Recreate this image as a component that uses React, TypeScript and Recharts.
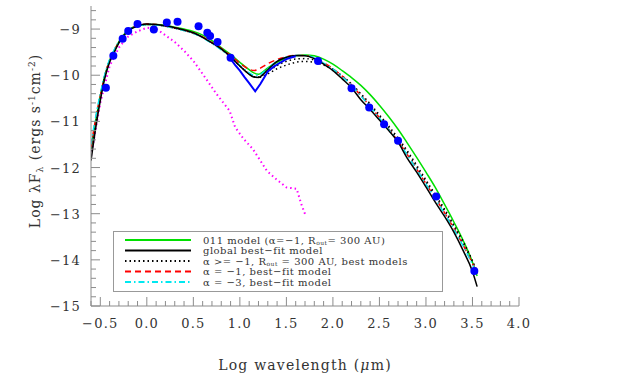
import React from "react";
import { ComposedChart, Line, XAxis, YAxis, Legend } from "recharts";

// model grid (log wavelength, micron)
const modelX = [
  -0.6, -0.55, -0.5, -0.45, -0.4, -0.35, -0.3, -0.25, -0.2,
  -0.1, 0, 0.1, 0.2, 0.3, 0.4, 0.5, 0.6, 0.7, 0.8, 0.9, 1.0, 1.1,
  1.15, 1.2, 1.25,
  1.3, 1.4, 1.5, 1.6, 1.7, 1.8, 1.9, 2.0, 2.1, 2.2, 2.3, 2.4, 2.5, 2.6, 2.7,
  2.8, 2.9, 3.0, 3.1, 3.2, 3.3, 3.4, 3.5,
  3.55,
];

const model011 = [
  -11.6, -11.0, -10.45, -10.0, -9.68, -9.46, -9.27, -9.13, -9.02,
  -8.93, -8.9, -8.9, -8.92, -8.96, -9.0, -9.05, -9.13, -9.25, -9.4, -9.55, -9.72, -9.88,
  -9.95, -9.98, -9.92,
  -9.84, -9.72, -9.63, -9.58, -9.56, -9.58, -9.65, -9.76, -9.9, -10.05, -10.22, -10.42, -10.65, -10.9, -11.17,
  -11.47, -11.78, -12.1, -12.43, -12.8, -13.18, -13.58, -14.05,
  -14.35,
];

const globalFit = [
  -11.85, -11.15, -10.55, -10.05, -9.72, -9.5, -9.3, -9.15, -9.04,
  -8.93, -8.89, -8.9, -8.93, -8.97, -9.02, -9.08, -9.18, -9.3, -9.43, -9.6, -9.8, -9.98,
  -10.04, -10.05, -9.98,
  -9.88, -9.7, -9.61, -9.57, -9.58, -9.64, -9.76, -9.9, -10.08, -10.27, -10.53, -10.74, -10.97, -11.2, -11.45,
  -11.8, -12.1, -12.42, -12.75, -13.06, -13.4, -13.8, -14.25,
  -14.58,
];

const bestA = [
  -11.6, -11.0, -10.45, -10.0, -9.68, -9.46, -9.28, -9.14, -9.03,
  -8.93, -8.9, -8.91, -8.94, -8.98, -9.03, -9.09, -9.18, -9.3, -9.44, -9.6, -9.8, -9.97,
  -10.03, -10.05, -10.02,
  -9.97, -9.86, -9.78, -9.72, -9.7, -9.72, -9.78, -9.88, -10.02, -10.19, -10.4, -10.62, -10.86, -11.1, -11.36,
  -11.64, -11.95, -12.27, -12.58, -12.9, -13.24, -13.6, -14.02,
  -14.25,
];

const bestB = [
  -11.65, -11.05, -10.5, -10.02, -9.7, -9.48, -9.29, -9.15, -9.04,
  -8.94, -8.9, -8.91, -8.94, -8.98, -9.03, -9.09, -9.18, -9.3, -9.44, -9.6, -9.8, -9.97,
  -10.03, -10.04, -9.99,
  -9.92, -9.79, -9.7, -9.65, -9.64, -9.67, -9.75, -9.87, -10.02, -10.2, -10.42, -10.65, -10.89, -11.14, -11.4,
  -11.68, -11.99, -12.31, -12.62, -12.94, -13.28, -13.64, -14.06,
  -14.28,
];

const alphaM1 = [
  -11.55, -10.95, -10.45, -10.0, -9.68, -9.47, -9.28, -9.14, -9.03,
  -8.93, -8.89, -8.9, -8.93, -8.97, -9.02, -9.08, -9.17, -9.29, -9.42, -9.57, -9.74, -9.87,
  -9.9, -9.87, -9.81,
  -9.75, -9.66, -9.6, -9.57, -9.57, -9.63, -9.73, -9.86, -10.02, -10.21, -10.44, -10.67, -10.92, -11.17, -11.43,
  -11.72, -12.03, -12.35, -12.66, -12.98, -13.32, -13.68, -14.08,
  -14.3,
];

const alphaM3 = [
  -11.5, -10.9, -10.4, -9.97, -9.66, -9.45, -9.27, -9.13, -9.03,
  -8.94, -8.9, -8.91, -8.94, -8.98, -9.03, -9.09, -9.19, -9.31, -9.45, -9.61, -9.79, -9.95,
  -10.0, -10.0, -9.94,
  -9.85, -9.7, -9.61, -9.57, -9.57, -9.62, -9.74, -9.87, -10.03, -10.22, -10.45, -10.68, -10.93, -11.18, -11.44,
  -11.73, -12.04, -12.36, -12.68, -13.0, -13.34, -13.7, -14.1,
  -14.3,
];

// photometry
const obsX = [-0.44, -0.36, -0.26, -0.2, -0.1, 0.075, 0.215, 0.33, 0.556, 0.65, 0.68, 0.76, 0.9, 1.84, 2.2, 2.39, 2.55, 2.7, 3.11, 3.52];
const obsY = [-10.27, -9.58, -9.21, -9.04, -8.89, -9.01, -8.86, -8.84, -8.94, -9.08, -9.15, -9.28, -9.62, -9.69, -10.28, -10.7, -11.06, -11.42, -12.63, -14.24];

// IRS spectrum
const specX = [0.89, 0.95, 1.0, 1.05, 1.1, 1.165, 1.22, 1.27, 1.3, 1.36, 1.43, 1.5, 1.56, 1.6];
const specY = [-9.62, -9.78, -9.9, -10.04, -10.17, -10.35, -10.19, -10.02, -9.92, -9.82, -9.73, -9.65, -9.61, -9.59];

// stellar photosphere
const photX = [-0.6, -0.5, -0.4, -0.3, -0.2, -0.1, 0.0, 0.1, 0.19, 0.3, 0.405, 0.5, 0.61, 0.75, 0.89, 0.95, 1.04, 1.14, 1.22, 1.29, 1.39, 1.5, 1.61, 1.66, 1.71];
const photY = [-11.75, -10.6, -9.8, -9.4, -9.16, -9.05, -8.97, -8.99, -9.12, -9.28, -9.48, -9.69, -10.0, -10.41, -10.77, -11.13, -11.38, -11.6, -11.85, -12.07, -12.25, -12.43, -12.46, -12.79, -13.06];

const xMajor = [-0.5, 0, 0.5, 1, 1.5, 2, 2.5, 3, 3.5, 4];
const yMajor = [-15, -14, -13, -12, -11, -10, -9];
const xMinor = Array.from({ length: 47 }, (_, i) => Math.round((-0.6 + i * 0.1) * 10) / 10);
const yMinor = Array.from({ length: 33 }, (_, i) => Math.round((-15 + i * 0.2) * 10) / 10);

const AXIS = "#8c8c8c";
const INK = "#333";
const FONT = "'DejaVu Serif', serif";

const modelRows = modelX.map((x, i) => ({
  x,
  green: model011[i],
  black: globalFit[i],
  dotA: bestA[i],
  dotB: bestB[i],
  red: alphaM1[i],
  cyan: alphaM3[i],
}));
const obsRows = obsX.map((x, i) => ({ x, y: obsY[i] }));
const specRows = specX.map((x, i) => ({ x, y: specY[i] }));
const photRows = photX.map((x, i) => ({ x, y: photY[i] }));

const isMajor = (v: number, list: number[]) => list.some((m) => Math.abs(m - v) < 1e-6);
const fmt = (v: number, d: number) => (v < 0 ? "\u2212" : "") + Math.abs(v).toFixed(d);

const BottomTick = (p: any) => {
  const major = isMajor(p.payload.value, xMajor);
  return (
    <g>
      <line x1={p.x} y1={p.y} x2={p.x} y2={p.y - (major ? 9 : 5)} stroke={AXIS} />
      {major && (
        <text x={p.x} y={p.y + 22} textAnchor="middle" fontSize={13} letterSpacing={1.2} fill={INK} fontFamily={FONT}>
          {fmt(p.payload.value, 1)}
        </text>
      )}
    </g>
  );
};

const TopTick = (p: any) => {
  const major = isMajor(p.payload.value, xMajor);
  return <line x1={p.x} y1={p.y} x2={p.x} y2={p.y + (major ? 9 : 5)} stroke={AXIS} />;
};

const LeftTick = (p: any) => {
  const major = isMajor(p.payload.value, yMajor);
  return (
    <g>
      <line x1={p.x} y1={p.y} x2={p.x + (major ? 9 : 5)} y2={p.y} stroke={AXIS} />
      {major && (
        <text x={p.x - 10} y={p.y + 5} textAnchor="end" fontSize={13} letterSpacing={1.2} fill={INK} fontFamily={FONT}>
          {fmt(p.payload.value, 0)}
        </text>
      )}
    </g>
  );
};

const RightTick = (p: any) => {
  const major = isMajor(p.payload.value, yMajor);
  return <line x1={p.x} y1={p.y} x2={p.x - (major ? 9 : 5)} y2={p.y} stroke={AXIS} />;
};

const XLabel = (p: any) => {
  const vb = p.viewBox;
  return (
    <text x={vb.x + vb.width / 2} y={vb.y + 64} textAnchor="middle" fontSize={14} letterSpacing={1.2} fill={INK} fontFamily={FONT}>
      Log wavelength (<tspan fontStyle="italic">μ</tspan>m)
    </text>
  );
};

const YLabel = (p: any) => {
  const vb = p.viewBox;
  const cx = vb.x + 9;
  const cy = vb.y + vb.height / 2 - 15;
  return (
    <text x={cx} y={cy} textAnchor="middle" transform={`rotate(-90, ${cx}, ${cy})`} fontSize={14} letterSpacing={1} fill={INK} fontFamily={FONT}>
      Log λF<tspan dy={3} fontSize={9}>λ</tspan>
      <tspan dy={-3}> (ergs s</tspan>
      <tspan dy={-5} fontSize={9}>-1</tspan>
      <tspan dy={5}>cm</tspan>
      <tspan dy={-5} fontSize={9}>-2</tspan>
      <tspan dy={5}>)</tspan>
    </text>
  );
};

const legendItems = [
  { color: "#00e000", dash: undefined, text: ["011 model (α=−1, R", "out", "= 300 AU)"] },
  { color: "#000000", dash: undefined, text: ["global best−fit model"] },
  { color: "#000000", dash: "1.5 3", text: ["α >= −1, R", "out", " = 300 AU, best models"] },
  { color: "#ff0000", dash: "6 4", text: ["α = −1, best−fit model"] },
  { color: "#00e8f0", dash: "6 3 1.5 3", text: ["α = −3, best−fit model"] },
];

const LegendBox = () => (
  <svg width={331} height={62}>
    <rect x={0.5} y={0.5} width={329} height={60} fill="#fff" stroke="#999" />
    {legendItems.map((it, i) => {
      const y = 9 + i * 10.5;
      return (
        <g key={i}>
          <line x1={12} x2={78} y1={y} y2={y} stroke={it.color} strokeWidth={2} strokeDasharray={it.dash} />
          <text x={90} y={y + 3.5} fontSize={10} letterSpacing={0.5} fill={INK} fontFamily={FONT}>
            {it.text[0]}
            {it.text.length > 1 && (
              <>
                <tspan dy={1} fontSize={6}>{it.text[1]}</tspan>
                <tspan dy={-1}>{it.text[2]}</tspan>
              </>
            )}
          </text>
        </g>
      );
    })}
  </svg>
);

export default function App() {
  return (
    <div style={{ position: "absolute", left: 0, top: 0, width: 628, height: 379, background: "#fff" }}>
      <ComposedChart width={628} height={379} data={modelRows} margin={{ top: 6, right: 109, bottom: 43, left: 31 }}>
        <XAxis
          xAxisId="b"
          dataKey="x"
          type="number"
          domain={[-0.6, 4.0]}
          allowDataOverflow
          ticks={xMinor}
          interval={0}
          tickSize={0}
          tickMargin={0}
          tickLine={false}
          axisLine={{ stroke: AXIS }}
          tick={<BottomTick />}
          height={30}
          label={<XLabel />}
        />
        <XAxis
          xAxisId="t"
          orientation="top"
          dataKey="x"
          type="number"
          domain={[-0.6, 4.0]}
          allowDataOverflow
          ticks={xMinor}
          interval={0}
          tickSize={0}
          tickMargin={0}
          tickLine={false}
          axisLine={{ stroke: AXIS }}
          tick={<TopTick />}
          height={0}
        />
        <YAxis
          yAxisId="l"
          type="number"
          domain={[-15, -8.5]}
          allowDataOverflow
          ticks={yMinor}
          interval={0}
          tickSize={0}
          tickMargin={0}
          tickLine={false}
          axisLine={{ stroke: AXIS }}
          tick={<LeftTick />}
          width={60}
          label={<YLabel />}
        />
        <YAxis
          yAxisId="r"
          orientation="right"
          type="number"
          domain={[-15, -8.5]}
          allowDataOverflow
          ticks={yMinor}
          interval={0}
          tickSize={0}
          tickMargin={0}
          tickLine={false}
          axisLine={{ stroke: AXIS }}
          tick={<RightTick />}
          width={0}
        />
        <Legend
          layout="horizontal"
          verticalAlign="middle"
          align="center"
          wrapperStyle={{ position: "absolute", left: 113, top: 231, width: 331, height: 62 }}
          content={() => <LegendBox />}
        />
        {/* hidden series so top/right axes get scales */}
        <Line xAxisId="t" yAxisId="r" dataKey="black" stroke="none" dot={false} isAnimationActive={false} legendType="none" />
        <Line xAxisId="b" yAxisId="l" data={photRows} dataKey="y" type="linear" stroke="#ff00ff" strokeWidth={2} strokeDasharray="1.5 3" dot={false} isAnimationActive={false} />
        <Line xAxisId="b" yAxisId="l" dataKey="green" type="monotone" stroke="#00e000" strokeWidth={1.5} dot={false} isAnimationActive={false} />
        <Line xAxisId="b" yAxisId="l" dataKey="dotA" type="monotone" stroke="#000" strokeWidth={1.5} strokeDasharray="1.5 3" dot={false} isAnimationActive={false} />
        <Line xAxisId="b" yAxisId="l" dataKey="dotB" type="monotone" stroke="#000" strokeWidth={1.5} strokeDasharray="1.5 3" dot={false} isAnimationActive={false} />
        <Line xAxisId="b" yAxisId="l" dataKey="red" type="monotone" stroke="#ff0000" strokeWidth={1.5} strokeDasharray="6 4" dot={false} isAnimationActive={false} />
        <Line xAxisId="b" yAxisId="l" dataKey="cyan" type="monotone" stroke="#00e8f0" strokeWidth={1.5} strokeDasharray="6 3 1.5 3" dot={false} isAnimationActive={false} />
        <Line xAxisId="b" yAxisId="l" dataKey="black" type="monotone" stroke="#000" strokeWidth={1.5} dot={false} isAnimationActive={false} />
        <Line xAxisId="b" yAxisId="l" data={specRows} dataKey="y" type="linear" stroke="#0000ff" strokeWidth={2} dot={false} isAnimationActive={false} />
        <Line
          xAxisId="b"
          yAxisId="l"
          data={obsRows}
          dataKey="y"
          stroke="none"
          dot={{ r: 4, fill: "#0000ff", stroke: "#0000ff", strokeWidth: 0 }}
          isAnimationActive={false}
        />
      </ComposedChart>
    </div>
  );
}
